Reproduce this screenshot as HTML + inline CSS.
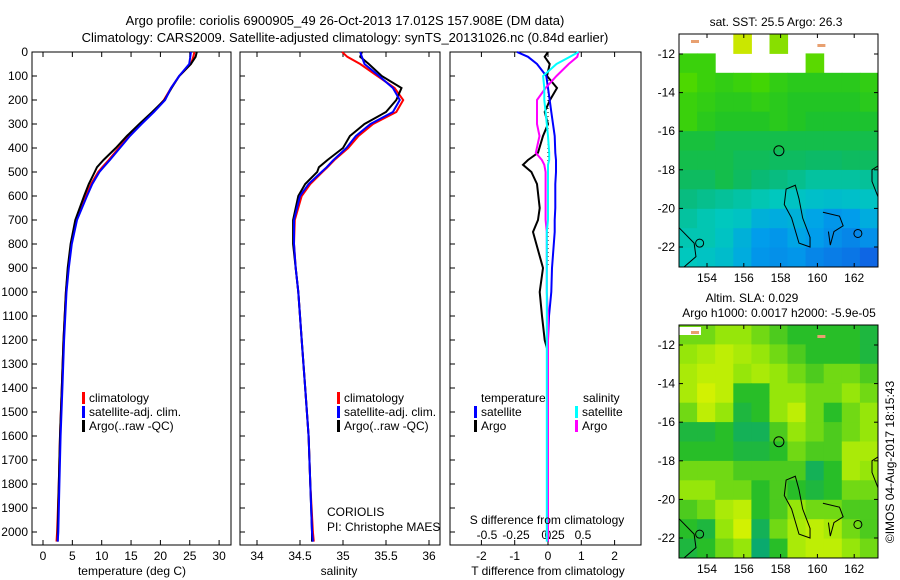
<!DOCTYPE html>
<html><head><meta charset="utf-8"><style>
body{margin:0;background:#fff;}
svg{display:block;font-family:"Liberation Sans",sans-serif;}
</style></head><body>
<svg id="fig" width="900" height="580" viewBox="0 0 900 580" xmlns="http://www.w3.org/2000/svg">
<text x="345" y="25" font-size="13" text-anchor="middle">Argo profile: coriolis 6900905_49 26-Oct-2013 17.012S 157.908E (DM data)</text>
<text x="345" y="42" font-size="13" text-anchor="middle">Climatology: CARS2009. Satellite-adjusted climatology: synTS_20131026.nc (0.84d earlier)</text>
<text x="776" y="26" font-size="12" text-anchor="middle">sat. SST: 25.5 Argo: 26.3</text>
<text x="752" y="302" font-size="12" text-anchor="middle">Altim. SLA: 0.029</text>
<text x="779" y="317" font-size="12" text-anchor="middle">Argo h1000: 0.0017 h2000: -5.9e-05</text>
<text transform="translate(894,462) rotate(-90)" font-size="12" text-anchor="middle">©IMOS 04-Aug-2017 18:15:43</text>
<g id="g"></g>
</svg>
<script>
// ---- data ----
const depthT = [0,20,50,100,150,200,250,300,350,400,450,480,500,550,600,700,800,900,1000,1200,1400,1600,1800,2000,2040];
const tempClim = [25.8,25.6,25.2,23.2,21.8,20.6,18.8,16.6,14.6,12.9,11.2,10.1,9.4,8.2,7.3,5.6,4.8,4.3,3.9,3.5,3.2,2.9,2.7,2.4,2.3];
const tempSat  = [25.2,25.1,24.9,23.2,21.8,20.8,18.9,16.8,14.8,13.1,11.4,10.3,9.6,8.4,7.5,5.8,4.9,4.4,4.0,3.6,3.3,3.0,2.8,2.6,2.5];
const tempArgo = [26.2,26.0,25.2,23.2,21.9,20.7,18.6,16.4,14.3,12.4,10.3,9.2,8.8,7.8,7.0,5.5,4.7,4.2,3.9,3.5,3.2,2.9,2.7,2.5,2.5];
const salClim = [34.99,35.05,35.2,35.4,35.6,35.7,35.62,35.35,35.18,35.06,34.9,34.82,34.76,34.62,34.52,34.44,34.43,34.45,34.48,34.52,34.56,34.6,34.62,34.65,34.66];
const salSat  = [35.2,35.22,35.25,35.42,35.58,35.66,35.58,35.32,35.15,35.04,34.89,34.81,34.75,34.6,34.5,34.43,34.43,34.45,34.48,34.52,34.56,34.6,34.62,34.64,34.65];
const salArgo = [35.22,35.2,35.3,35.45,35.68,35.62,35.5,35.25,35.08,35.0,34.82,34.72,34.7,34.56,34.48,34.42,34.42,34.45,34.48,34.52,34.56,34.6,34.62,34.64,34.64];
const depthD = [0,20,50,100,150,200,250,300,350,420,450,470,500,550,650,700,750,900,1000,1100,1200,1250,1400,1700,2000,2040];
const tdSat  = [-0.93,-0.6,-0.33,-0.05,0.0,0.05,0.1,0.15,0.2,0.22,0.24,0.24,0.24,0.22,0.22,0.2,0.2,0.12,0.1,0.03,0.0,0.0,0.0,0.0,0.0,0.0];
const tdArgo = [0.0,-0.1,0.05,-0.03,0.27,0.06,-0.1,0.0,-0.15,-0.3,-0.6,-0.75,-0.5,-0.33,-0.25,-0.3,-0.45,-0.15,-0.25,-0.18,-0.1,0.0,0.0,0.0,0.0,0.0];
const sdSat  = [0.25,0.18,0.07,-0.04,-0.03,-0.03,-0.02,-0.01,0.0,0.01,0.01,0.0,0.0,0.0,0.0,0.0,-0.01,-0.01,-0.01,-0.01,-0.01,-0.01,-0.01,-0.01,-0.01,-0.01];
const sdArgo = [0.25,0.24,0.17,0.07,-0.02,-0.09,-0.09,-0.09,-0.07,-0.1,-0.05,-0.03,-0.02,-0.02,-0.02,-0.02,-0.01,-0.01,-0.01,0.0,0.0,0.0,0.0,0.0,0.0,0.0];
const depthTicks = [0,100,200,300,400,500,600,700,800,900,1000,1100,1200,1300,1400,1500,1600,1700,1800,1900,2000];
const tempTicks = [0,5,10,15,20,25,30];
const salTicks = [34,34.5,35,35.5,36];
const tdTicks = [-2,-1,0,1,2];
const sdTicks = [-0.5,-0.25,0,0.25,0.5];
const lonTicks = [154,156,158,160,162];
const latTicks = [-12,-14,-16,-18,-20,-22];
const sstGrid = [
"-1,-1,-1,0.95,-1,0.85,-1,-1,-1,-1,-1",
"0.72,0.72,-1,-1,-1,-1,-1,0.78,-1,-1,-1",
"0.76,0.72,0.7,0.72,0.74,0.7,0.68,0.68,0.68,0.68,0.7",
"0.72,0.7,0.68,0.68,0.7,0.68,0.66,0.66,0.66,0.66,0.68",
"0.72,0.68,0.66,0.66,0.66,0.68,0.66,0.64,0.64,0.64,0.64",
"0.62,0.62,0.6,0.6,0.6,0.6,0.6,0.6,0.6,0.6,0.6",
"0.6,0.6,0.6,0.58,0.58,0.57,0.57,0.56,0.56,0.57,0.57",
"0.57,0.57,0.6,0.57,0.54,0.52,0.5,0.47,0.47,0.47,0.48",
"0.52,0.5,0.48,0.46,0.44,0.42,0.4,0.38,0.37,0.38,0.4",
"0.47,0.44,0.42,0.4,0.32,0.3,0.32,0.27,0.22,0.24,0.3",
"0.44,0.44,0.4,0.32,0.24,0.22,0.27,0.24,0.2,0.17,0.2",
"0.42,0.4,0.37,0.3,0.22,0.2,0.22,0.17,0.14,0.12,0.07"];
const slaGrid = [
".5,.5,.6,.6,.5,.4,.3,.3,.3,.3,.2",
".6,.7,.8,.7,.6,.5,.4,.3,.3,.3,.2",
".7,.8,.8,.6,.7,.6,.5,.4,.5,.5,.4",
".7,.9,.8,.3,.3,.6,.6,.5,.5,.6,.5",
".5,.8,.6,.2,.3,.6,.8,.5,.3,.5,.6",
".2,.2,.3,.1,.1,.4,.6,.5,.4,.5,.6",
".3,.3,.3,.2,.2,.3,.5,.4,.4,.7,.7",
".5,.5,.5,.4,.4,.4,.4,.1,.3,.7,.6",
".6,.6,.5,.5,.3,.4,.3,.2,.3,.5,.5",
".4,.5,.7,.8,.3,.4,.6,.5,.5,.4,.4",
".3,.2,.6,.9,.1,.5,.7,.8,.7,.5,.4",
".2,.3,.5,.6,0,.3,.7,.8,.8,.6,.5"];
const floatLon = 157.908, floatLat = -17.012;

// ---- helpers ----
const NS="http://www.w3.org/2000/svg";
const G=document.getElementById('g');
function mk(tag,attrs,parent){const e=document.createElementNS(NS,tag);for(const k in attrs)e.setAttribute(k,attrs[k]);(parent||G).appendChild(e);return e;}
const yD = d => 52 + d*0.24;
const PB = 545;
const panels = [
 {name:'temperature',x0:32,x1:231,sx:v=>43+v*5.87},
 {name:'salinity',x0:240,x1:440,sx:v=>257+(v-34)*86},
 {name:'difference',x0:450,x1:641,sx:v=>548+v*33.3}];
const sxS = v => 548 + v*122;
function line(xs,ys,sx,color,name,w){
  const pts = xs.map((v,i)=>sx(v).toFixed(1)+','+yD(ys[i]).toFixed(1)).join(' ');
  const p=mk('polyline',{points:pts,fill:'none',stroke:color,'stroke-width':w||2});
  
  
}
panels.forEach(p=>{
  const r=mk('rect',{x:p.x0,y:52,width:p.x1-p.x0,height:PB-52,fill:'none',stroke:'#000','stroke-width':1});
  
  
  depthTicks.forEach(d=>{mk('line',{x1:p.x0,x2:p.x0+5,y1:yD(d),y2:yD(d),stroke:'#000'});});
});
depthTicks.forEach(d=>{
  const t=mk('text',{x:28,y:yD(d)+4,'font-size':12,'text-anchor':'end'});t.textContent=d;
  
  
});
function xTicks(ticks,sx,y,name){
  ticks.forEach(v=>{
    mk('line',{x1:sx(v),x2:sx(v),y1:PB,y2:PB-5,stroke:'#000'});
    mk('line',{x1:sx(v),x2:sx(v),y1:52,y2:57,stroke:'#000'});
    const t=mk('text',{x:sx(v),y:y,'font-size':12,'text-anchor':'middle'});t.textContent=v;
    
    
  });
}
xTicks(tempTicks,panels[0].sx,560,'temperature-tick-label');
xTicks(salTicks,panels[1].sx,560,'salinity-tick-label');
xTicks(tdTicks,panels[2].sx,560,'t-diff-tick-label');
sdTicks.forEach((v,i)=>{const t=mk('text',{x:[487,516,548,553,583][i],y:539,'font-size':12,'text-anchor':'middle'});t.textContent=v===0?'0':v;
  
  });
// dotted zero line
mk('line',{x1:548,x2:548,y1:yD(100),y2:yD(900),stroke:'#000','stroke-dasharray':'1 3'});
// series
line(tempClim,depthT,panels[0].sx,'#f00','temp-climatology-line');
line(tempArgo,depthT,panels[0].sx,'#000','temp-argo-line');
line(tempSat,depthT,panels[0].sx,'#00f','temp-satellite-line');
line(salClim,depthT,panels[1].sx,'#f00','sal-climatology-line');
line(salArgo,depthT,panels[1].sx,'#000','sal-argo-line');
line(salSat,depthT,panels[1].sx,'#00f','sal-satellite-line');
line(tdArgo,depthD,panels[2].sx,'#000','tdiff-argo-line');
line(tdSat,depthD,panels[2].sx,'#00f','tdiff-satellite-line');
line(sdArgo,depthD,sxS,'#f0f','sdiff-argo-line');
line(sdSat,depthD,sxS,'#0ff','sdiff-satellite-line');
// legends
function leg(x,y,color,label,name){
  mk('rect',{x:x,y:y-10,width:3,height:12,fill:color});
  const t=mk('text',{x:x+7,y:y,'font-size':12});t.textContent=label;
  
  
}
[[0,82],[1,337]].forEach(([i,x])=>{
  leg(x,402,'#f00','climatology','legend-climatology');
  leg(x,416,'#00f','satellite-adj. clim.','legend-satellite-adj');
  leg(x,430,'#000','Argo(..raw -QC)','legend-argo');
});
function txt(x,y,s,name,anchor){const t=mk('text',{x:x,y:y,'font-size':12,'text-anchor':anchor||'start'});t.textContent=s;
  
  }
txt(481,402,'temperature','legend-temperature-heading');
txt(583,402,'salinity','legend-salinity-heading');
leg(474,416,'#00f','satellite','legend-t-satellite');
leg(474,430,'#000','Argo','legend-t-argo');
leg(575,416,'#0ff','satellite','legend-s-satellite');
leg(575,430,'#f0f','Argo','legend-s-argo');
txt(327,516,'CORIOLIS','agency-label');
txt(327,531,'PI: Christophe MAES','pi-label');
txt(547,524,'S difference from climatology','s-diff-axis-title','middle');
txt(132,575,'temperature (deg C)','temperature-axis-title','middle');
txt(339,575,'salinity','salinity-axis-title','middle');
txt(548,575,'T difference from climatology','t-diff-axis-title','middle');

// ---- maps ----
function cmapSST(v){
  const st=[[0,[20,80,225]],[0.25,[0,160,235]],[0.42,[0,200,190]],[0.55,[10,185,110]],[0.65,[30,195,40]],[0.75,[70,215,0]],[1,[235,235,0]]];
  return interp(st,v);
}
function cmapSLA(v){
  const st=[[0,[10,170,110]],[0.3,[40,190,40]],[0.6,[150,230,10]],[1,[230,245,0]]];
  return interp(st,v);
}
function interp(st,v){
  for(let i=1;i<st.length;i++){ if(v<=st[i][0]){const a=st[i-1],b=st[i],f=(v-a[0])/(b[0]-a[0]);
    return 'rgb('+a[1].map((c,j)=>Math.round(c+(b[1][j]-c)*f)).join(',')+')';}}
  return 'rgb('+st[st.length-1][1].join(',')+')';
}
function map(y0,grid,cmap,name){
  const x0=679,x1=878,y1=y0+233;
  const lonX=l=>707+(l-154)*18.4, latY=l=>y0+20+(-12-l)*19.3;
  const g=mk('g',{});
  
  
  const rows=grid.map(r=>r.split(',').map(Number));
  const cw=(x1-x0)/rows[0].length, ch=(y1-y0)/rows.length;
  rows.forEach((r,i)=>r.forEach((v,j)=>{
    if(v<0) return;
    const c=mk('rect',{x:(x0+j*cw).toFixed(1),y:(y0+i*ch).toFixed(1),width:(cw+0.5).toFixed(1),height:(ch+0.5).toFixed(1),fill:cmap(v)},g);
    
    
  }));
  // coastlines
  const isl=[[158.3,-19.0],[158.8,-18.8],[159.0,-19.5],[159.2,-20.5],[159.6,-21.5],[159.6,-22.0],[159.0,-21.8],[158.6,-20.5],[158.2,-19.8]];
  mk('polygon',{points:isl.map(p=>lonX(p[0])+','+latY(p[1])).join(' '),fill:'none',stroke:'#000','stroke-width':1},g);
  const isl2=[[160.3,-20.2],[161.2,-20.4],[161.4,-20.9],[160.9,-21.2],[160.7,-21.9],[160.6,-21.2]];
  mk('polyline',{points:isl2.map(p=>lonX(p[0])+','+latY(p[1])).join(' '),fill:'none',stroke:'#000','stroke-width':1},g);
  mk('ellipse',{cx:lonX(162.2),cy:latY(-21.3),rx:4,ry:4,fill:'none',stroke:'#000'},g);
  mk('ellipse',{cx:lonX(153.6),cy:latY(-21.8),rx:4,ry:4,fill:'none',stroke:'#000'},g);
  mk('polyline',{points:`${x0},${latY(-21)} ${lonX(153.3)},${latY(-21.8)} ${lonX(153.4)},${latY(-22.5)} ${x0+5},${y1}`,fill:'none',stroke:'#000'},g);
  mk('polyline',{points:`${x1},${latY(-17.8)} ${x1-6},${latY(-18)} ${x1-6},${latY(-18.6)} ${x1},${latY(-19.4)}`,fill:'none',stroke:'#000'},g);
  mk('rect',{x:x0,y:y0+2,width:22,height:8,fill:'#fff'},g);
  mk('rect',{x:x0+12,y:y0+6,width:8,height:3,fill:'#e8a070'},g);
  mk('rect',{x:lonX(160),y:y0+10,width:8,height:3,fill:'#e8a070'},g);
  const c=mk('circle',{cx:lonX(floatLon),cy:latY(floatLat),r:5,fill:'none',stroke:'#000','stroke-width':1},g);
  
  
  mk('rect',{x:x0,y:y0,width:x1-x0,height:y1-y0,fill:'none',stroke:'#000'},g);
  lonTicks.forEach(l=>{mk('line',{x1:lonX(l),x2:lonX(l),y1:y1,y2:y1-4,stroke:'#000'},g);mk('line',{x1:lonX(l),x2:lonX(l),y1:y0,y2:y0+4,stroke:'#000'},g);
    const t=mk('text',{x:lonX(l),y:y1+15,'font-size':12,'text-anchor':'middle'},g);t.textContent=l;
    
    });
  latTicks.forEach(l=>{mk('line',{x1:x0,x2:x0+4,y1:latY(l),y2:latY(l),stroke:'#000'},g);mk('line',{x1:x1,x2:x1-4,y1:latY(l),y2:latY(l),stroke:'#000'},g);
    const t=mk('text',{x:x0-4,y:latY(l)+4,'font-size':12,'text-anchor':'end'},g);t.textContent=l;
    
    });
}
map(34,sstGrid,cmapSST,'sst-map');
map(325,slaGrid,cmapSLA,'sla-map');
</script>
</body></html>
